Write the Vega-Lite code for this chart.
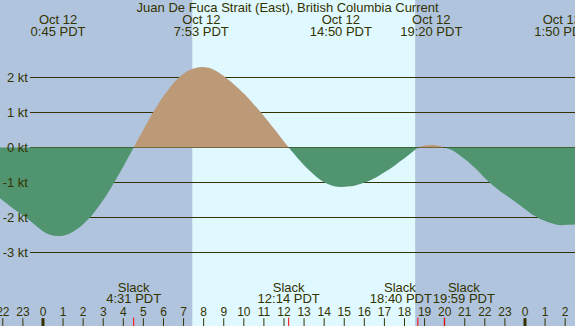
{
  "$schema": "https://vega.github.io/schema/vega-lite/v6.json",
  "width": 575,
  "height": 326,
  "autosize": {"type": "none"},
  "padding": 0,
  "config": {"view": {"stroke": null}, "text": {"font": "Liberation Sans", "fontSize": 13, "color": "#333300"}},
  "datasets": {
    "bands": [
      {"start": -2.14, "end": 7.45, "period": "night"},
      {"start": 7.45, "end": 18.53, "period": "day"},
      {"start": 18.53, "end": 26.49, "period": "night"}
    ],
    "grid": [
      {"v": 2, "label": "2 kt"}, {"v": 1, "label": "1 kt"}, {"v": 0, "label": "0 kt"},
      {"v": -1, "label": "-1 kt"}, {"v": -2, "label": "-2 kt"}, {"v": -3, "label": "-3 kt"}
    ],
    "curve": [
      {"t": -2.14, "v": -1.45, "seg": 1, "dir": "ebb"}, {"t": -1.9, "v": -1.56, "seg": 1, "dir": "ebb"},
      {"t": -1.65, "v": -1.67, "seg": 1, "dir": "ebb"}, {"t": -1.4, "v": -1.78, "seg": 1, "dir": "ebb"},
      {"t": -1.15, "v": -1.88, "seg": 1, "dir": "ebb"}, {"t": -0.9, "v": -1.98, "seg": 1, "dir": "ebb"},
      {"t": -0.65, "v": -2.09, "seg": 1, "dir": "ebb"}, {"t": -0.4, "v": -2.21, "seg": 1, "dir": "ebb"},
      {"t": -0.15, "v": -2.33, "seg": 1, "dir": "ebb"}, {"t": 0.1, "v": -2.43, "seg": 1, "dir": "ebb"},
      {"t": 0.35, "v": -2.49, "seg": 1, "dir": "ebb"}, {"t": 0.55, "v": -2.52, "seg": 1, "dir": "ebb"},
      {"t": 0.75, "v": -2.53, "seg": 1, "dir": "ebb"}, {"t": 1.0, "v": -2.52, "seg": 1, "dir": "ebb"},
      {"t": 1.25, "v": -2.48, "seg": 1, "dir": "ebb"}, {"t": 1.5, "v": -2.41, "seg": 1, "dir": "ebb"},
      {"t": 1.75, "v": -2.31, "seg": 1, "dir": "ebb"}, {"t": 2.0, "v": -2.19, "seg": 1, "dir": "ebb"},
      {"t": 2.25, "v": -2.05, "seg": 1, "dir": "ebb"}, {"t": 2.5, "v": -1.89, "seg": 1, "dir": "ebb"},
      {"t": 2.75, "v": -1.70, "seg": 1, "dir": "ebb"}, {"t": 3.0, "v": -1.50, "seg": 1, "dir": "ebb"},
      {"t": 3.25, "v": -1.28, "seg": 1, "dir": "ebb"}, {"t": 3.5, "v": -1.04, "seg": 1, "dir": "ebb"},
      {"t": 3.75, "v": -0.79, "seg": 1, "dir": "ebb"}, {"t": 4.0, "v": -0.54, "seg": 1, "dir": "ebb"},
      {"t": 4.25, "v": -0.28, "seg": 1, "dir": "ebb"}, {"t": 4.517, "v": 0, "seg": 1, "dir": "ebb"},
      {"t": 4.517, "v": 0, "seg": 2, "dir": "flood"}, {"t": 4.75, "v": 0.25, "seg": 2, "dir": "flood"},
      {"t": 5.0, "v": 0.51, "seg": 2, "dir": "flood"}, {"t": 5.25, "v": 0.77, "seg": 2, "dir": "flood"},
      {"t": 5.5, "v": 1.02, "seg": 2, "dir": "flood"}, {"t": 5.75, "v": 1.25, "seg": 2, "dir": "flood"},
      {"t": 6.0, "v": 1.47, "seg": 2, "dir": "flood"}, {"t": 6.25, "v": 1.66, "seg": 2, "dir": "flood"},
      {"t": 6.5, "v": 1.84, "seg": 2, "dir": "flood"}, {"t": 6.75, "v": 1.99, "seg": 2, "dir": "flood"},
      {"t": 7.0, "v": 2.11, "seg": 2, "dir": "flood"}, {"t": 7.25, "v": 2.20, "seg": 2, "dir": "flood"},
      {"t": 7.5, "v": 2.26, "seg": 2, "dir": "flood"}, {"t": 7.883, "v": 2.30, "seg": 2, "dir": "flood"},
      {"t": 8.25, "v": 2.28, "seg": 2, "dir": "flood"}, {"t": 8.5, "v": 2.22, "seg": 2, "dir": "flood"},
      {"t": 8.75, "v": 2.14, "seg": 2, "dir": "flood"}, {"t": 9.0, "v": 2.04, "seg": 2, "dir": "flood"},
      {"t": 9.25, "v": 1.93, "seg": 2, "dir": "flood"}, {"t": 9.5, "v": 1.81, "seg": 2, "dir": "flood"},
      {"t": 9.75, "v": 1.68, "seg": 2, "dir": "flood"}, {"t": 10.0, "v": 1.54, "seg": 2, "dir": "flood"},
      {"t": 10.25, "v": 1.39, "seg": 2, "dir": "flood"}, {"t": 10.5, "v": 1.23, "seg": 2, "dir": "flood"},
      {"t": 10.75, "v": 1.07, "seg": 2, "dir": "flood"}, {"t": 11.0, "v": 0.90, "seg": 2, "dir": "flood"},
      {"t": 11.25, "v": 0.72, "seg": 2, "dir": "flood"}, {"t": 11.5, "v": 0.54, "seg": 2, "dir": "flood"},
      {"t": 11.75, "v": 0.36, "seg": 2, "dir": "flood"}, {"t": 12.0, "v": 0.17, "seg": 2, "dir": "flood"},
      {"t": 12.233, "v": 0, "seg": 2, "dir": "flood"},
      {"t": 12.233, "v": 0, "seg": 3, "dir": "ebb"}, {"t": 12.5, "v": -0.18, "seg": 3, "dir": "ebb"},
      {"t": 12.75, "v": -0.35, "seg": 3, "dir": "ebb"}, {"t": 13.0, "v": -0.51, "seg": 3, "dir": "ebb"},
      {"t": 13.25, "v": -0.65, "seg": 3, "dir": "ebb"}, {"t": 13.5, "v": -0.78, "seg": 3, "dir": "ebb"},
      {"t": 13.75, "v": -0.90, "seg": 3, "dir": "ebb"}, {"t": 14.0, "v": -0.99, "seg": 3, "dir": "ebb"},
      {"t": 14.25, "v": -1.06, "seg": 3, "dir": "ebb"}, {"t": 14.5, "v": -1.11, "seg": 3, "dir": "ebb"},
      {"t": 14.833, "v": -1.13, "seg": 3, "dir": "ebb"}, {"t": 15.25, "v": -1.11, "seg": 3, "dir": "ebb"},
      {"t": 15.5, "v": -1.09, "seg": 3, "dir": "ebb"}, {"t": 15.75, "v": -1.05, "seg": 3, "dir": "ebb"},
      {"t": 16.0, "v": -1.00, "seg": 3, "dir": "ebb"}, {"t": 16.25, "v": -0.95, "seg": 3, "dir": "ebb"},
      {"t": 16.5, "v": -0.88, "seg": 3, "dir": "ebb"}, {"t": 16.75, "v": -0.80, "seg": 3, "dir": "ebb"},
      {"t": 17.0, "v": -0.71, "seg": 3, "dir": "ebb"}, {"t": 17.25, "v": -0.62, "seg": 3, "dir": "ebb"},
      {"t": 17.5, "v": -0.52, "seg": 3, "dir": "ebb"}, {"t": 17.75, "v": -0.41, "seg": 3, "dir": "ebb"},
      {"t": 18.0, "v": -0.31, "seg": 3, "dir": "ebb"}, {"t": 18.25, "v": -0.19, "seg": 3, "dir": "ebb"},
      {"t": 18.5, "v": -0.08, "seg": 3, "dir": "ebb"}, {"t": 18.667, "v": 0, "seg": 3, "dir": "ebb"},
      {"t": 18.667, "v": 0, "seg": 4, "dir": "flood"}, {"t": 18.9, "v": 0.04, "seg": 4, "dir": "flood"},
      {"t": 19.1, "v": 0.065, "seg": 4, "dir": "flood"}, {"t": 19.333, "v": 0.07, "seg": 4, "dir": "flood"},
      {"t": 19.55, "v": 0.065, "seg": 4, "dir": "flood"}, {"t": 19.75, "v": 0.045, "seg": 4, "dir": "flood"},
      {"t": 19.983, "v": 0, "seg": 4, "dir": "flood"},
      {"t": 19.983, "v": 0, "seg": 5, "dir": "ebb"}, {"t": 20.25, "v": -0.05, "seg": 5, "dir": "ebb"},
      {"t": 20.5, "v": -0.12, "seg": 5, "dir": "ebb"}, {"t": 20.75, "v": -0.22, "seg": 5, "dir": "ebb"},
      {"t": 21.0, "v": -0.33, "seg": 5, "dir": "ebb"}, {"t": 21.25, "v": -0.45, "seg": 5, "dir": "ebb"},
      {"t": 21.5, "v": -0.58, "seg": 5, "dir": "ebb"}, {"t": 21.75, "v": -0.72, "seg": 5, "dir": "ebb"},
      {"t": 22.0, "v": -0.87, "seg": 5, "dir": "ebb"}, {"t": 22.25, "v": -1.01, "seg": 5, "dir": "ebb"},
      {"t": 22.5, "v": -1.13, "seg": 5, "dir": "ebb"}, {"t": 22.75, "v": -1.24, "seg": 5, "dir": "ebb"},
      {"t": 23.0, "v": -1.34, "seg": 5, "dir": "ebb"}, {"t": 23.25, "v": -1.44, "seg": 5, "dir": "ebb"},
      {"t": 23.5, "v": -1.54, "seg": 5, "dir": "ebb"}, {"t": 23.75, "v": -1.65, "seg": 5, "dir": "ebb"},
      {"t": 24.0, "v": -1.76, "seg": 5, "dir": "ebb"}, {"t": 24.25, "v": -1.87, "seg": 5, "dir": "ebb"},
      {"t": 24.5, "v": -1.96, "seg": 5, "dir": "ebb"}, {"t": 24.75, "v": -2.04, "seg": 5, "dir": "ebb"},
      {"t": 25.0, "v": -2.10, "seg": 5, "dir": "ebb"}, {"t": 25.25, "v": -2.15, "seg": 5, "dir": "ebb"},
      {"t": 25.5, "v": -2.19, "seg": 5, "dir": "ebb"}, {"t": 25.833, "v": -2.22, "seg": 5, "dir": "ebb"},
      {"t": 26.1, "v": -2.21, "seg": 5, "dir": "ebb"}, {"t": 26.49, "v": -2.20, "seg": 5, "dir": "ebb"}
    ],
    "events": [
      {"t": 0.75, "date": "Oct 12", "time": "0:45 PDT"},
      {"t": 7.883, "date": "Oct 12", "time": "7:53 PDT"},
      {"t": 14.833, "date": "Oct 12", "time": "14:50 PDT"},
      {"t": 19.333, "date": "Oct 12", "time": "19:20 PDT"},
      {"t": 25.833, "date": "Oct 13", "time": "1:50 PDT"}
    ],
    "slacks": [
      {"t": 4.517, "label": "Slack", "time": "4:31 PDT", "pos": "mid"},
      {"t": 12.233, "label": "Slack", "time": "12:14 PDT", "pos": "mid"},
      {"t": 18.667, "label": "Slack", "time": "18:40 PDT", "pos": "left"},
      {"t": 19.983, "label": "Slack", "time": "19:59 PDT", "pos": "right"}
    ],
    "hours": [
      {"h": -2, "label": "22"}, {"h": -1, "label": "23"}, {"h": 0, "label": "0"}, {"h": 1, "label": "1"},
      {"h": 2, "label": "2"}, {"h": 3, "label": "3"}, {"h": 4, "label": "4"}, {"h": 5, "label": "5"},
      {"h": 6, "label": "6"}, {"h": 7, "label": "7"}, {"h": 8, "label": "8"}, {"h": 9, "label": "9"},
      {"h": 10, "label": "10"}, {"h": 11, "label": "11"}, {"h": 12, "label": "12"}, {"h": 13, "label": "13"},
      {"h": 14, "label": "14"}, {"h": 15, "label": "15"}, {"h": 16, "label": "16"}, {"h": 17, "label": "17"},
      {"h": 18, "label": "18"}, {"h": 19, "label": "19"}, {"h": 20, "label": "20"}, {"h": 21, "label": "21"},
      {"h": 22, "label": "22"}, {"h": 23, "label": "23"}, {"h": 24, "label": "0"}, {"h": 25, "label": "1"},
      {"h": 26, "label": "2"}
    ],
    "title": [{"t": 12.18, "text": "Juan De Fuca Strait (East), British Columbia Current"}]
  },
  "layer": [
    {
      "data": {"name": "bands"},
      "mark": {"type": "rect"},
      "encoding": {
        "x": {"field": "start", "type": "quantitative", "scale": {"domain": [-2.14, 26.49], "nice": false, "zero": false}, "axis": null},
        "x2": {"field": "end"},
        "color": {"field": "period", "type": "nominal", "scale": {"domain": ["night", "day", "ebb", "flood"], "range": ["#b0c4de", "#e0f8ff", "#509470", "#bc9a78"]}, "legend": null}
      }
    },
    {
      "data": {"name": "grid"},
      "mark": {"type": "rule", "color": "#333300", "strokeWidth": 1},
      "encoding": {
        "x": {"datum": -0.646, "type": "quantitative", "scale": {"domain": [-2.14, 26.49], "nice": false, "zero": false}, "axis": null},
        "x2": {"datum": 26.49},
        "y": {"field": "v", "type": "quantitative", "scale": {"domain": [-5.1, 4.2143], "nice": false, "zero": false}, "axis": null}
      }
    },
    {
      "data": {"name": "curve"},
      "mark": {"type": "area", "interpolate": "monotone"},
      "encoding": {
        "x": {"field": "t", "type": "quantitative", "scale": {"domain": [-2.14, 26.49], "nice": false, "zero": false}, "axis": null},
        "y": {"field": "v", "type": "quantitative", "scale": {"domain": [-5.1, 4.2143], "nice": false, "zero": false}, "axis": null},
        "y2": {"datum": 0},
        "color": {"field": "dir", "type": "nominal", "scale": {"domain": ["night", "day", "ebb", "flood"], "range": ["#b0c4de", "#e0f8ff", "#509470", "#bc9a78"]}, "legend": null},
        "detail": {"field": "seg", "type": "nominal"}
      }
    },
    {
      "data": {"name": "grid"},
      "mark": {"type": "text", "align": "right", "baseline": "middle"},
      "encoding": {
        "x": {"datum": -0.746, "type": "quantitative", "scale": {"domain": [-2.14, 26.49], "nice": false, "zero": false}, "axis": null},
        "y": {"field": "v", "type": "quantitative", "scale": {"domain": [-5.1, 4.2143], "nice": false, "zero": false}, "axis": null},
        "text": {"field": "label"}
      }
    },
    {
      "data": {"name": "title"},
      "mark": {"type": "text", "align": "center", "baseline": "middle"},
      "encoding": {
        "x": {"field": "t", "type": "quantitative", "scale": {"domain": [-2.14, 26.49], "nice": false, "zero": false}, "axis": null},
        "y": {"datum": 3.99, "type": "quantitative", "scale": {"domain": [-5.1, 4.2143], "nice": false, "zero": false}, "axis": null},
        "text": {"field": "text"}
      }
    },
    {
      "data": {"name": "events"},
      "mark": {"type": "text", "align": "center", "baseline": "middle"},
      "encoding": {
        "x": {"field": "t", "type": "quantitative", "scale": {"domain": [-2.14, 26.49], "nice": false, "zero": false}, "axis": null},
        "y": {"datum": 3.64, "type": "quantitative", "scale": {"domain": [-5.1, 4.2143], "nice": false, "zero": false}, "axis": null},
        "text": {"field": "date"}
      }
    },
    {
      "data": {"name": "events"},
      "mark": {"type": "text", "align": "center", "baseline": "middle"},
      "encoding": {
        "x": {"field": "t", "type": "quantitative", "scale": {"domain": [-2.14, 26.49], "nice": false, "zero": false}, "axis": null},
        "y": {"datum": 3.3, "type": "quantitative", "scale": {"domain": [-5.1, 4.2143], "nice": false, "zero": false}, "axis": null},
        "text": {"field": "time"}
      }
    },
    {
      "data": {"name": "slacks"},
      "transform": [{"filter": "datum.pos == 'mid'"}],
      "mark": {"type": "text", "align": "center", "baseline": "middle", "lineHeight": 12},
      "encoding": {
        "x": {"field": "t", "type": "quantitative", "scale": {"domain": [-2.14, 26.49], "nice": false, "zero": false}, "axis": null},
        "y": {"datum": -4.0, "type": "quantitative", "scale": {"domain": [-5.1, 4.2143], "nice": false, "zero": false}, "axis": null},
        "text": {"field": "label"}
      }
    },
    {
      "data": {"name": "slacks"},
      "transform": [{"filter": "datum.pos == 'mid'"}],
      "mark": {"type": "text", "align": "center", "baseline": "middle"},
      "encoding": {
        "x": {"field": "t", "type": "quantitative", "scale": {"domain": [-2.14, 26.49], "nice": false, "zero": false}, "axis": null},
        "y": {"datum": -4.334, "type": "quantitative", "scale": {"domain": [-5.1, 4.2143], "nice": false, "zero": false}, "axis": null},
        "text": {"field": "time"}
      }
    },
    {
      "data": {"name": "slacks"},
      "transform": [{"filter": "datum.pos == 'left'"}],
      "mark": {"type": "text", "align": "center", "baseline": "middle", "dx": -18},
      "encoding": {
        "x": {"field": "t", "type": "quantitative", "scale": {"domain": [-2.14, 26.49], "nice": false, "zero": false}, "axis": null},
        "y": {"datum": -4.0, "type": "quantitative", "scale": {"domain": [-5.1, 4.2143], "nice": false, "zero": false}, "axis": null},
        "text": {"field": "label"}
      }
    },
    {
      "data": {"name": "slacks"},
      "transform": [{"filter": "datum.pos == 'left'"}],
      "mark": {"type": "text", "align": "center", "baseline": "middle", "dx": -17},
      "encoding": {
        "x": {"field": "t", "type": "quantitative", "scale": {"domain": [-2.14, 26.49], "nice": false, "zero": false}, "axis": null},
        "y": {"datum": -4.334, "type": "quantitative", "scale": {"domain": [-5.1, 4.2143], "nice": false, "zero": false}, "axis": null},
        "text": {"field": "time"}
      }
    },
    {
      "data": {"name": "slacks"},
      "transform": [{"filter": "datum.pos == 'right'"}],
      "mark": {"type": "text", "align": "center", "baseline": "middle", "dx": 19.5},
      "encoding": {
        "x": {"field": "t", "type": "quantitative", "scale": {"domain": [-2.14, 26.49], "nice": false, "zero": false}, "axis": null},
        "y": {"datum": -4.0, "type": "quantitative", "scale": {"domain": [-5.1, 4.2143], "nice": false, "zero": false}, "axis": null},
        "text": {"field": "label"}
      }
    },
    {
      "data": {"name": "slacks"},
      "transform": [{"filter": "datum.pos == 'right'"}],
      "mark": {"type": "text", "align": "center", "baseline": "middle", "dx": 19.5},
      "encoding": {
        "x": {"field": "t", "type": "quantitative", "scale": {"domain": [-2.14, 26.49], "nice": false, "zero": false}, "axis": null},
        "y": {"datum": -4.334, "type": "quantitative", "scale": {"domain": [-5.1, 4.2143], "nice": false, "zero": false}, "axis": null},
        "text": {"field": "time"}
      }
    },
    {
      "data": {"name": "hours"},
      "mark": {"type": "text", "align": "center", "baseline": "middle", "fontSize": 12},
      "encoding": {
        "x": {"field": "h", "type": "quantitative", "scale": {"domain": [-2.14, 26.49], "nice": false, "zero": false}, "axis": null},
        "y": {"datum": -4.697, "type": "quantitative", "scale": {"domain": [-5.1, 4.2143], "nice": false, "zero": false}, "axis": null},
        "text": {"field": "label"}
      }
    },
    {
      "data": {"name": "hours"},
      "mark": {"type": "rule", "color": "#333300", "strokeWidth": 1},
      "encoding": {
        "x": {"field": "h", "type": "quantitative", "scale": {"domain": [-2.14, 26.49], "nice": false, "zero": false}, "axis": null},
        "y": {"datum": -4.877, "type": "quantitative", "scale": {"domain": [-5.1, 4.2143], "nice": false, "zero": false}, "axis": null},
        "y2": {"datum": -5.1}
      }
    },
    {
      "data": {"name": "hours"},
      "transform": [{"filter": "datum.label == '0'"}],
      "mark": {"type": "rule", "color": "#333300", "strokeWidth": 3},
      "encoding": {
        "x": {"field": "h", "type": "quantitative", "scale": {"domain": [-2.14, 26.49], "nice": false, "zero": false}, "axis": null},
        "y": {"datum": -4.877, "type": "quantitative", "scale": {"domain": [-5.1, 4.2143], "nice": false, "zero": false}, "axis": null},
        "y2": {"datum": -5.1}
      }
    },
    {
      "data": {"name": "slacks"},
      "mark": {"type": "rule", "color": "#ff0000", "strokeWidth": 1},
      "encoding": {
        "x": {"field": "t", "type": "quantitative", "scale": {"domain": [-2.14, 26.49], "nice": false, "zero": false}, "axis": null},
        "y": {"datum": -4.86, "type": "quantitative", "scale": {"domain": [-5.1, 4.2143], "nice": false, "zero": false}, "axis": null},
        "y2": {"datum": -5.1}
      }
    }
  ]
}
